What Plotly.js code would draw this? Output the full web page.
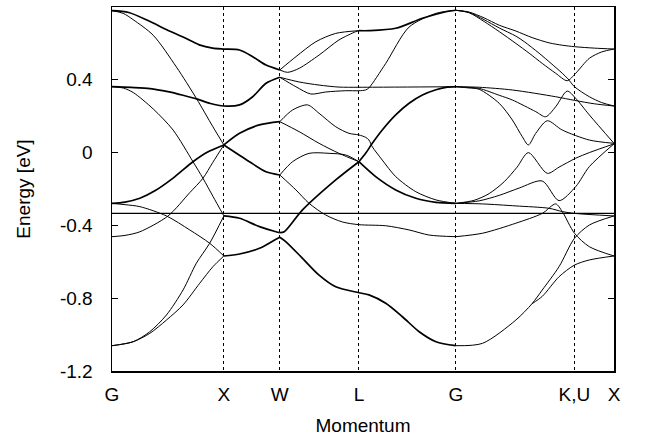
<!DOCTYPE html>
<html>
<head>
<meta charset="utf-8">
<script src="https://cdn.plot.ly/plotly-3.0.1.min.js"></script>
<style>
  html,body{margin:0;padding:0;background:#fff;}
  #chart{width:652px;height:444px;}
</style>
</head>
<body>
<div id="chart"></div>
<script>
// k-path (high symmetry points) and energy axis
const kTicks  = [0, 1, 1.5, 2.2071, 3.0731, 4.1338, 4.4874];
const kLabels = ["G", "X", "W", "L", "G", "K,U", "X"];
const eTicks  = [-1.2, -0.8, -0.4, 0, 0.4, 0.8];
const eLabels = ["-1.2", "-0.8", "-0.4", "0", "0.4", "0.8"];
const eFermi  = -0.334;

// bands as [k, E(eV)]
// degenerate (drawn heavier)
const gxA  = [[0,0.78],[0.15,0.77],[0.34,0.72],[0.49,0.675],[0.635,0.635],[0.78,0.592],[0.9,0.574],[1,0.569],[1.14,0.564],[1.258,0.527],[1.377,0.481],[1.5,0.454]];
const gxC  = [[0,0.362],[0.17,0.358],[0.34,0.352],[0.5,0.335],[0.635,0.315],[0.757,0.295],[0.88,0.27],[1,0.256],[1.14,0.262],[1.258,0.307],[1.377,0.381],[1.5,0.414]];
const gxE  = [[0,-0.279],[0.116,-0.272],[0.249,-0.251],[0.383,-0.21],[0.546,-0.14],[0.724,-0.05],[0.855,0.003],[1,0.042]];
const xwUp = [[1,0.042],[1.14,0.106],[1.318,0.152],[1.5,0.17]];
const xwDn = [[1,0.042],[1.229,-0.05],[1.377,-0.105],[1.5,-0.123]];
const xwMid = [[1,-0.348],[1.14,-0.361],[1.318,-0.407],[1.466,-0.435],[1.5,-0.44]];
const xwLow = [[1,-0.568],[1.14,-0.557],[1.318,-0.526],[1.466,-0.476],[1.5,-0.465]];
const wlY   = [[1.5,-0.44],[1.54,-0.435],[1.703,-0.315],[2.0,-0.15],[2.207,-0.05]];
const wlBot = [[1.5,-0.465],[1.555,-0.49],[1.703,-0.581],[1.851,-0.673],[2.0,-0.737],[2.207,-0.77],[2.297,-0.782],[2.447,-0.828],[2.596,-0.902],[2.746,-0.984],[2.896,-1.039],[3.073,-1.061]];
const lgTop = [[2.207,0.67],[2.297,0.67],[2.536,0.683],[2.775,0.738],[2.985,0.774],[3.073,0.782]];
const lgZ2  = [[2.207,-0.05],[2.267,-0.004],[2.327,0.051],[2.416,0.124],[2.536,0.207],[2.656,0.271],[2.775,0.316],[2.896,0.345],[2.985,0.358],[3.073,0.362]];
const lgZ3  = [[2.207,-0.05],[2.357,-0.132],[2.536,-0.205],[2.716,-0.251],[2.896,-0.273],[3.073,-0.279]];

// single bands
const gxB = [[0,0.78],[0.1,0.765],[0.19,0.73],[0.368,0.645],[0.576,0.47],[0.754,0.298],[0.902,0.142],[1,0.042]];
const gxD = [[0,0.362],[0.1,0.355],[0.19,0.33],[0.368,0.24],[0.546,0.124],[0.724,-0.05],[0.813,-0.141],[0.902,-0.24],[1,-0.348]];
const gxF = [[0,-0.279],[0.116,-0.286],[0.249,-0.297],[0.487,-0.348],[0.695,-0.425],[0.873,-0.498],[1,-0.568]];
const gxG = [[0,-0.462],[0.116,-0.455],[0.249,-0.435],[0.501,-0.348],[0.695,-0.22],[0.813,-0.141],[0.9,-0.055],[1,0.042]];
const gxH = [[0,-1.061],[0.19,-1.039],[0.338,-0.984],[0.487,-0.892],[0.635,-0.755],[0.754,-0.608],[0.873,-0.498],[1,-0.348]];
const gxI = [[0,-1.061],[0.19,-1.039],[0.338,-0.993],[0.487,-0.92],[0.635,-0.837],[0.784,-0.718],[0.902,-0.627],[1,-0.568]];
const wlU1 = [[1.5,0.454],[1.644,0.527],[1.822,0.609],[2.0,0.655],[2.207,0.67]];
const wlU2 = [[1.5,0.454],[1.569,0.441],[1.673,0.463],[1.851,0.536],[2.029,0.619],[2.177,0.664],[2.207,0.67]];
const wlV1 = [[1.5,0.414],[1.673,0.388],[1.851,0.371],[2.029,0.36],[2.207,0.359],[2.566,0.36],[3.073,0.362]];
const wlV2 = [[1.5,0.414],[1.644,0.362],[1.777,0.322],[1.911,0.333],[2.089,0.34],[2.207,0.34],[2.267,0.344],[2.297,0.356],[2.447,0.49],[2.656,0.69],[2.896,0.765],[3.073,0.782]];
const wlW1 = [[1.5,0.17],[1.614,0.234],[1.748,0.262],[1.851,0.216],[2.0,0.142],[2.118,0.106],[2.207,0.097],[2.267,0.084],[2.297,0.069],[2.327,0.032],[2.416,-0.041],[2.536,-0.132],[2.716,-0.215],[2.896,-0.26],[3.073,-0.279]];
const wlW2 = [[1.5,0.17],[1.673,0.115],[1.851,0.051],[2.029,-0.004],[2.207,-0.05]];
const wlX1 = [[1.5,-0.123],[1.614,-0.05],[1.762,-0.004],[1.94,-0.004],[2.089,-0.013],[2.207,-0.05]];
const wlX2 = [[1.5,-0.123],[1.644,-0.205],[1.762,-0.279],[1.911,-0.343],[2.059,-0.381],[2.207,-0.396],[2.447,-0.402],[2.656,-0.425],[2.835,-0.453],[3.073,-0.462]];
const gkA = [[3.073,0.782],[3.193,0.772],[3.327,0.74],[3.461,0.70],[3.61,0.668],[3.755,0.632],[3.907,0.603],[4.025,0.59],[4.134,0.582],[4.313,0.574],[4.487,0.569]];
const gkB = [[3.073,0.782],[3.193,0.768],[3.327,0.72],[3.461,0.665],[3.61,0.60],[3.729,0.546],[3.846,0.49],[3.966,0.436],[4.069,0.395],[4.145,0.436],[4.267,0.518],[4.377,0.553],[4.487,0.569]];
const gkC = [[3.073,0.782],[3.193,0.77],[3.327,0.73],[3.461,0.685],[3.61,0.64],[3.684,0.61],[3.818,0.546],[3.925,0.49],[4.025,0.436],[4.076,0.405],[4.134,0.362],[4.267,0.307],[4.377,0.275],[4.487,0.256]];
const gkD = [[3.073,0.362],[3.282,0.359],[3.579,0.344],[3.966,0.307],[4.134,0.287],[4.313,0.268],[4.487,0.256]];
const gkE = [[3.073,0.362],[3.193,0.358],[3.282,0.353],[3.461,0.315],[3.579,0.289],[3.788,0.225],[3.877,0.197],[3.966,0.252],[4.069,0.338],[4.145,0.298],[4.267,0.207],[4.487,0.051]];
const gkF = [[3.073,0.362],[3.193,0.355],[3.282,0.348],[3.461,0.271],[3.579,0.179],[3.668,0.087],[3.722,0.042],[3.788,0.106],[3.891,0.175],[4.025,0.124],[4.267,0.069],[4.487,0.051]];
const gkG = [[3.073,-0.279],[3.238,-0.262],[3.372,-0.225],[3.506,-0.16],[3.621,-0.08],[3.722,0.0],[3.891,-0.114],[3.996,-0.08],[4.145,-0.031],[4.267,0.0],[4.487,0.048]];
const gkH = [[3.073,-0.279],[3.282,-0.265],[3.461,-0.235],[3.639,-0.195],[3.846,-0.156],[3.996,-0.264],[4.145,-0.187],[4.267,-0.077],[4.487,0.048]];
const gkI = [[3.073,-0.279],[3.312,-0.282],[3.61,-0.293],[3.907,-0.306],[4.025,-0.324],[4.134,-0.334],[4.487,-0.348]];
const gkJ = [[3.073,-0.462],[3.312,-0.443],[3.61,-0.388],[3.846,-0.334],[3.966,-0.282],[4.025,-0.324],[4.134,-0.443],[4.267,-0.517],[4.487,-0.568]];
const gkK = [[3.073,-1.061],[3.312,-1.048],[3.61,-0.92],[3.755,-0.83],[3.846,-0.755],[3.996,-0.627],[4.134,-0.471],[4.267,-0.398],[4.487,-0.348]];
const gkL = [[3.755,-0.83],[3.846,-0.79],[3.996,-0.682],[4.134,-0.618],[4.267,-0.59],[4.487,-0.568]];

const heavy = [gxA, gxC, gxE, xwUp, xwDn, xwMid, xwLow, wlY, wlBot, lgTop, lgZ2, lgZ3];
const light = [gxB, gxD, gxF, gxG, gxH, gxI, wlU1, wlU2, wlV1, wlV2, wlW1, wlW2, wlX1, wlX2,
               gkA, gkB, gkC, gkD, gkE, gkF, gkG, gkH, gkI, gkJ, gkK, gkL];

(function(){
  const band = (pts, w) => ({
    type:"scatter", mode:"lines", hoverinfo:"skip", showlegend:false,
    x:pts.map(p=>p[0]), y:pts.map(p=>p[1]),
    line:{color:"#000", width:w, shape:"spline", smoothing:0.8}
  });
  const traces = [
    ...heavy.map(p=>band(p,1.7)),
    ...light.map(p=>band(p,1)),
    {type:"scatter", mode:"lines", hoverinfo:"skip", showlegend:false,
     x:[kTicks[0], kTicks[kTicks.length-1]], y:[eFermi, eFermi], line:{color:"#000", width:1.4}}
  ];
  const F = {family:"Liberation Sans, Arial, sans-serif", color:"#000", size:19};
  const layout = {
    width:652, height:444,
    margin:{l:112, r:38, t:7, b:73},
    paper_bgcolor:"#fff", plot_bgcolor:"#fff",
    font:F, showlegend:false,
    xaxis:{
      range:[kTicks[0], kTicks[kTicks.length-1]], tickvals:kTicks, ticktext:kLabels,
      showgrid:true, gridcolor:"#000", gridwidth:1, griddash:"3px,3px",
      zeroline:false, showline:true, mirror:true, linecolor:"#000", linewidth:1.5,
      ticks:"", tickfont:F, ticklabelstandoff:6, automargin:false,
      title:{text:"Momentum", font:F, standoff:14}
    },
    yaxis:{
      range:[-1.2, 0.8], tickvals:eTicks, ticktext:eLabels,
      showgrid:false, zeroline:false, showline:true, mirror:"ticks",
      linecolor:"#000", linewidth:1.5, ticks:"inside", ticklen:6, tickcolor:"#000",
      tickfont:F, ticklabelstandoff:14, automargin:false,
      title:{text:"Energy [eV]", font:F, standoff:24}
    }
  };
  Plotly.newPlot("chart", traces, layout, {displayModeBar:false, staticPlot:true});
})();
</script>
</body>
</html>
